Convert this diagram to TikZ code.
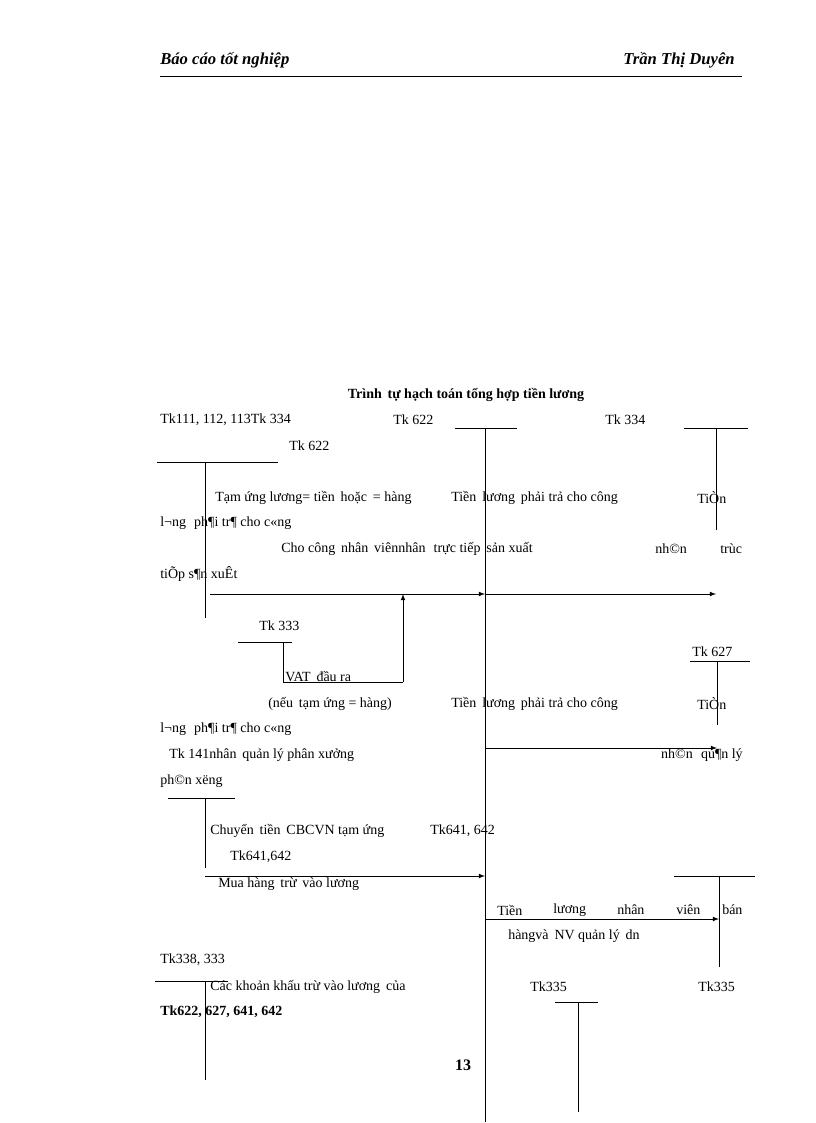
\documentclass[tikz,border=0pt]{standalone}
\usepackage{fontspec}
\setmainfont{Liberation Serif}
\begin{document}
\begin{tikzpicture}[x=0.75pt,y=-0.75pt,
  t/.style={anchor=west,inner sep=0pt,font=\fontsize{10.5}{12}\selectfont},
  ln/.style={line width=0.6pt},
  ar/.style={ln,-latex}]
\useasboundingbox (0,0) rectangle (816,1123);
% header
\node[t,font=\fontsize{12.5}{14}\selectfont\bfseries\itshape] (h1) at (160,60) {Báo cáo tốt nghiệp};
\node[anchor=east,inner sep=0pt,font=\fontsize{12.5}{14}\selectfont\bfseries\itshape] (h2) at (735,60) {Trần Thị Duyên};
\draw[ln] (160,76) -- (742,76);
\node[inner sep=0pt,font=\fontsize{10.5}{12}\selectfont\bfseries] (title) at (466,395) {Trình\, tự hạch toán tổng hợp tiền lương};
% T accounts
\coordinate (a1) at (455,428); \coordinate (a2) at (517,428);
\coordinate (c) at (485,428); \coordinate (cb) at (485,1122);
\draw[ln] (a1) -- (a2); \draw[ln] (c) -- (cb);
\coordinate (b1) at (684,428); \coordinate (b2) at (748,428);
\coordinate (bt) at (716,428); \coordinate (bb) at (716,530);
\draw[ln] (b1) -- (b2); \draw[ln] (bt) -- (bb);
\coordinate (l1) at (157,462); \coordinate (l2) at (278,462);
\coordinate (lt) at (205,462); \coordinate (lb) at (205,618);
\draw[ln] (l1) -- (l2); \draw[ln] (lt) -- (lb);
\coordinate (r1s) at (210,594); \coordinate (r1m) at (485,594); \coordinate (r1e) at (716,594);
\draw[ar] (r1s) -- (r1m); \draw[ar] (r1m) -- (r1e);
\coordinate (v1) at (238,642); \coordinate (v2) at (292,642);
\coordinate (vt) at (283,642); \coordinate (vb) at (283,682); \coordinate (vu) at (403,682); \coordinate (vup) at (403,594);
\draw[ln] (v1) -- (v2); \draw[ln] (vt) -- (vb) -- (vu); \draw[ar] (vu) -- (vup);
\coordinate (p1) at (690,661); \coordinate (p2) at (750,661);
\coordinate (pt) at (717,661); \coordinate (pb) at (717,725);
\draw[ln] (p1) -- (p2); \draw[ln] (pt) -- (pb);
\coordinate (r2s) at (485,748); \coordinate (r2e) at (717,748);
\draw[ar] (r2s) -- (r2e);
\coordinate (q1) at (168,798); \coordinate (q2) at (235,798);
\coordinate (qt) at (205,798); \coordinate (qb) at (205,868);
\draw[ln] (q1) -- (q2); \draw[ln] (qt) -- (qb);
\coordinate (r3s) at (205,876); \coordinate (r3e) at (485,876);
\draw[ar] (r3s) -- (r3e);
\coordinate (s1) at (674,876); \coordinate (s2) at (755,876);
\coordinate (st) at (719,876); \coordinate (sb) at (719,967);
\draw[ln] (s1) -- (s2); \draw[ln] (st) -- (sb);
\coordinate (r4s) at (485,919); \coordinate (r4e) at (719,919);
\draw[ar] (r4s) -- (r4e);
\coordinate (u1) at (155,981); \coordinate (u2) at (228,981);
\coordinate (ut) at (205,981); \coordinate (ub) at (205,1080);
\draw[ln] (u1) -- (u2); \draw[ln] (ut) -- (ub);
\coordinate (w1) at (555,1002); \coordinate (w2) at (598,1002);
\coordinate (wt) at (578,1002); \coordinate (wb) at (578,1112);
\draw[ln] (w1) -- (w2); \draw[ln] (wt) -- (wb);
% texts
\node[t] (x1) at (160,420) {Tk111, 112, 113Tk 334};
\node[t] (x2) at (393,420) {Tk 622};
\node[t] (x3) at (605,420) {Tk 334};
\node[t] (x4) at (289,446) {Tk 622};
\node[t] (x5) at (215,498) {Tạm ứng lương= tiền\, hoặc\, = hàng};
\node[t] (x6) at (451,498) {Tiền\, lương\, phải trả cho công};
\node[t] (x7) at (697,498) {TiÒn};
\node[t] (x8) at (160,523) {l¬ng\, \,ph¶i tr¶ cho c«ng};
\node[t] (x9) at (281,549) {Cho công\, nhân\, viênnhân\, \,trực tiếp\, sản xuất};
\node[t] (x10) at (655,549) {nh©n};
\node[t] (x11) at (720,549) {trùc};
\node[t] (x12) at (160,574) {tiÕp s¶n xuÊt};
\node[t] (x13) at (259,626) {Tk 333};
\node[t] (x14) at (692,652) {Tk 627};
\node[t] (x15) at (285,677) {VAT\, đầu ra};
\node[t] (x16) at (268,704) {(nếu\, tạm ứng = hàng)};
\node[t] (x17) at (451,704) {Tiền\, lương\, phải trả cho công};
\node[t] (x18) at (697,704) {TiÒn};
\node[t] (x19) at (160,729) {l¬ng\, \,ph¶i tr¶ cho c«ng};
\node[t] (x20) at (169,755) {Tk 141nhân\, quản lý phân xưởng};
\node[anchor=east,inner sep=0pt,font=\fontsize{10.5}{12}\selectfont] (x21) at (743,755) {nh©n\, \,qu¶n lý};
\node[t] (x22) at (160,781) {ph©n xëng};
\node[t] (x23) at (210,831) {Chuyển\, tiền\, CBCVN tạm ứng};
\node[t] (x24) at (430,831) {Tk641, 642};
\node[t] (x25) at (230,857) {Tk641,642};
\node[t] (x26) at (218,884) {Mua hàng\, trừ\, vào lương};
\node[t] (y1) at (497,910) {Tiền};
\node[t] (y2) at (553,910) {lương};
\node[t] (y3) at (617,910) {nhân};
\node[t] (y4) at (676,910) {viên};
\node[t] (y5) at (722,910) {bán};
\node[t] (x27) at (508,936) {hàngvà\, NV quản lý\, dn};
\node[t] (x28) at (160,960) {Tk338, 333};
\node[t] (x29) at (210,987) {Các khoản khấu trừ vào lương\, của};
\node[t] (x30) at (530,987) {Tk335};
\node[t] (x31) at (698,987) {Tk335};
\node[t,font=\fontsize{10.5}{12}\selectfont\bfseries] (x32) at (160,1012) {Tk622, 627, 641, 642};
\node[inner sep=0pt,font=\fontsize{12}{14}\selectfont\bfseries] (pg) at (463,1065) {13};
\end{tikzpicture}
\end{document}
